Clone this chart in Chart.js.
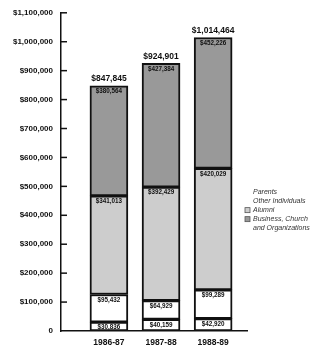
<!DOCTYPE html>
<html>
<head>
<meta charset="utf-8">
<script src="https://cdn.jsdelivr.net/npm/chart.js@4"></script>
<style>
  html, body { margin: 0; padding: 0; background: #fff; }
  #wrap { width: 322px; height: 347px; position: relative; }
</style>
</head>
<body>
<div id="wrap"><canvas id="gifts" width="322" height="347"></canvas></div>
<script>
// fiscal years, bottom-to-top segments, totals shown over each bar
const years = ["1986-87", "1987-88", "1988-89"];
const parents = [30836, 40159, 42920];
const otherIndividuals = [95432, 64929, 99289];
const alumni = [341013, 392429, 420029];
const business = [380564, 427384, 452226];
const totals = [847845, 924901, 1014464];
const yTicks = [0, 100000, 200000, 300000, 400000, 500000, 600000, 700000, 800000, 900000, 1000000, 1100000];

const money = v => "$" + v.toLocaleString("en-US");
const font = "'Liberation Sans', Arial, sans-serif";

function series(values) {
  return values.map((v, i) => ({ x: i, y: v }));
}

// axis ticks point into the plot, like the original
const insideTicks = {
  id: "insideTicks",
  afterDraw(chart) {
    const ctx = chart.ctx;
    const y = chart.scales.y;
    const left = chart.chartArea.left;
    ctx.save();
    ctx.strokeStyle = "#111";
    ctx.lineWidth = 1.5;
    yTicks.forEach(t => {
      if (t === 0) return;
      const py = y.getPixelForValue(t);
      ctx.beginPath();
      ctx.moveTo(left, py);
      ctx.lineTo(left + 6, py);
      ctx.stroke();
    });
    ctx.restore();
  }
};

const barLabels = {
  id: "barLabels",
  afterDatasetsDraw(chart) {
    const ctx = chart.ctx;
    ctx.save();
    ctx.textAlign = "center";
    ctx.textBaseline = "middle";
    ctx.fillStyle = "#111";
    ctx.font = "bold 6.3px " + font;
    chart.data.datasets.forEach((ds, di) => {
      chart.getDatasetMeta(di).data.forEach((bar, i) => {
        ctx.fillText(money(ds.data[i].y), bar.x, bar.y + 5.5);
      });
    });
    ctx.font = "bold 8.5px " + font;
    const top = chart.getDatasetMeta(chart.data.datasets.length - 1).data;
    top.forEach((bar, i) => {
      ctx.fillText(money(totals[i]), bar.x, bar.y - 7);
    });
    ctx.restore();
  }
};

const sideLegend = {
  id: "sideLegend",
  afterDraw(chart) {
    const ctx = chart.ctx;
    const x0 = chart.chartArea.right + 6;
    let y0 = chart.scales.y.getPixelForValue(480000);
    ctx.save();
    ctx.textBaseline = "middle";
    ctx.textAlign = "left";
    ctx.font = "italic 7px " + font;
    ctx.fillStyle = "#333";
    chart.data.datasets.forEach(ds => {
      if (ds.backgroundColor !== "#ffffff") {
        ctx.fillStyle = ds.backgroundColor;
        ctx.fillRect(x0 - 8, y0 - 2.5, 5, 5);
        ctx.strokeStyle = "#555";
        ctx.lineWidth = 0.8;
        ctx.strokeRect(x0 - 8, y0 - 2.5, 5, 5);
        ctx.fillStyle = "#333";
      }
      ds.label.split("\n").forEach(line => {
        ctx.fillText(line, x0, y0);
        y0 += 9;
      });
    });
    ctx.restore();
  }
};

const segment = (label, values, color) => ({
  label: label,
  data: series(values),
  backgroundColor: color,
  borderColor: "#111",
  borderWidth: 2,
  borderSkipped: false,
  barThickness: 38
});

new Chart(document.getElementById("gifts"), {
  type: "bar",
  data: {
    datasets: [
      segment("Parents", parents, "#ffffff"),
      segment("Other Individuals", otherIndividuals, "#ffffff"),
      segment("Alumni", alumni, "#cdcdcd"),
      segment("Business, Church\nand Organizations", business, "#999999")
    ]
  },
  options: {
    responsive: false,
    animation: false,
    devicePixelRatio: 1,
    layout: { padding: { top: 9, right: 75, left: 0, bottom: 0 } },
    plugins: {
      legend: { display: false },
      tooltip: { enabled: false }
    },
    scales: {
      x: {
        type: "linear",
        stacked: true,
        offset: false,
        min: -0.92,
        max: 2.65,
        grid: { display: false, drawTicks: false },
        border: { color: "#111", width: 1.5 },
        afterFit: s => { s.height = 16; },
        afterBuildTicks: s => { s.ticks = years.map((_, i) => ({ value: i })); },
        ticks: {
          autoSkip: false,
          maxRotation: 0,
          padding: 7,
          color: "#111",
          font: { family: font, size: 8.5, weight: "bold" },
          callback: v => years[v]
        }
      },
      y: {
        stacked: true,
        min: 0,
        max: 1100000,
        grid: { display: false, drawTicks: false },
        border: { color: "#111", width: 1.5 },
        afterFit: s => { s.width = 61; },
        afterBuildTicks: s => { s.ticks = yTicks.map(v => ({ value: v })); },
        ticks: {
          autoSkip: false,
          padding: 8,
          color: "#111",
          font: { family: font, size: 8, weight: "bold" },
          callback: v => v === 0 ? "0" : money(v)
        }
      }
    }
  },
  plugins: [insideTicks, barLabels, sideLegend]
});
</script>
</body>
</html>
